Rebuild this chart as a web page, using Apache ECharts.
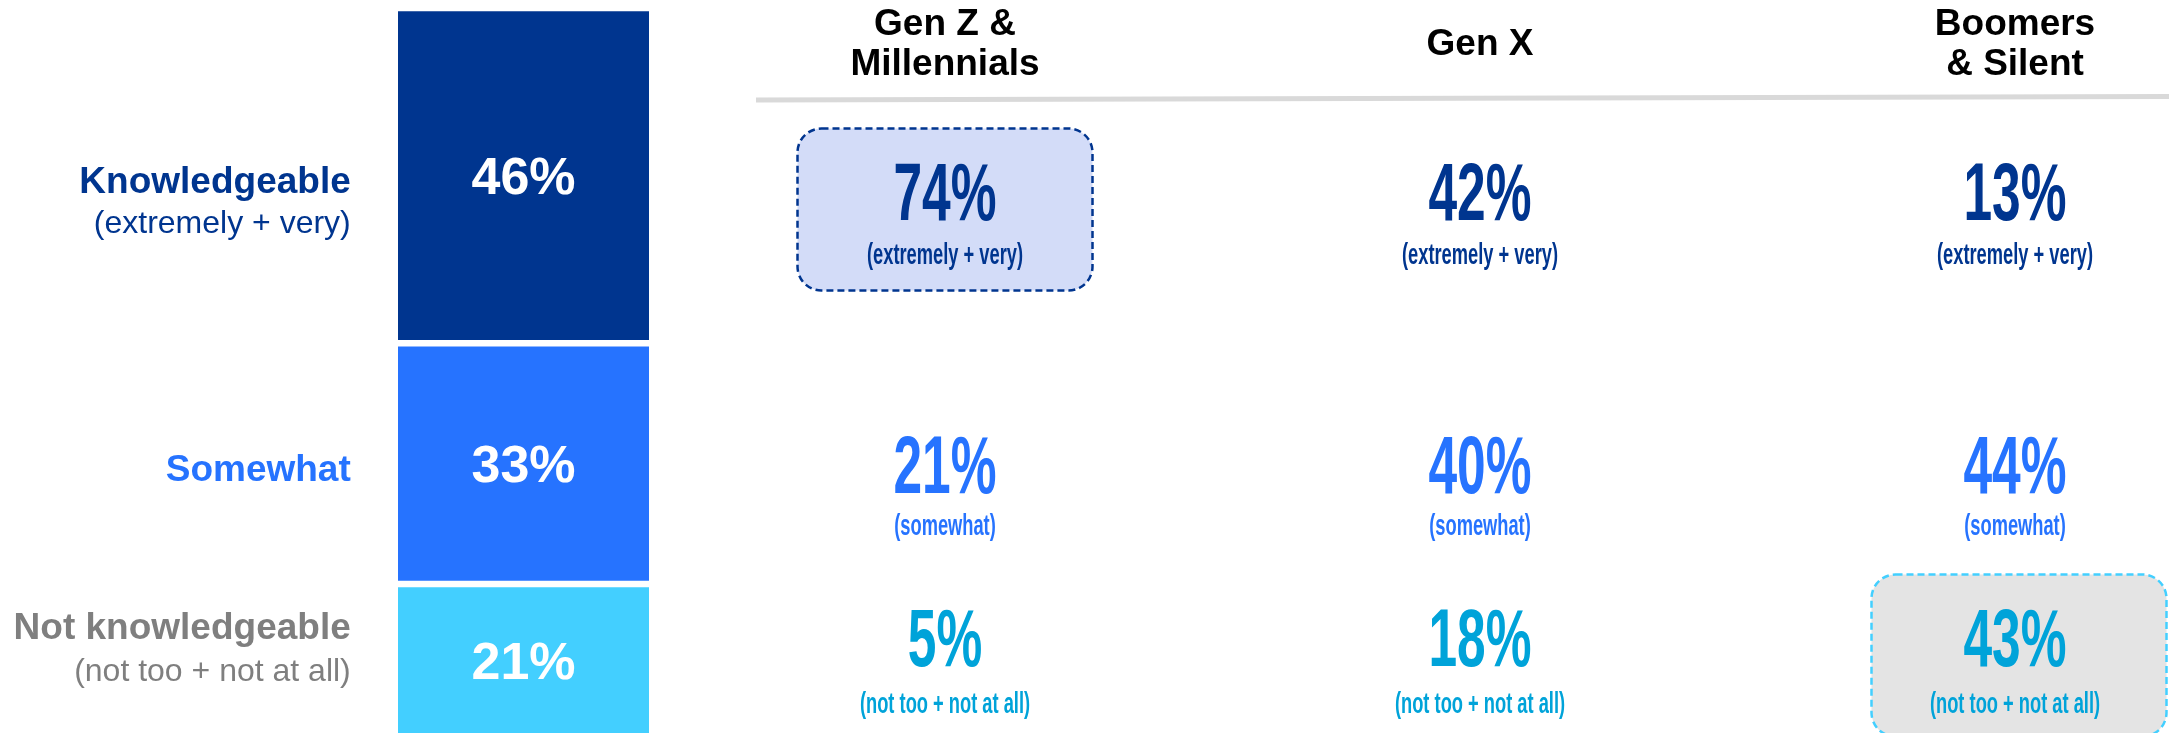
<!DOCTYPE html>
<html>
<head>
<meta charset="utf-8">
<title>Knowledge by generation</title>
<script src="https://cdn.jsdelivr.net/npm/echarts@6/dist/echarts.min.js"></script>
<style>
  html, body { margin: 0; padding: 0; background: #fff; }
  #main { width: 2169px; height: 733px; }
</style>
</head>
<body>
<div id="main"></div>
<script>
// data
var levels = ['Knowledgeable', 'Somewhat', 'Not knowledgeable'];
var levelNotes = ['(extremely + very)', '', '(not too + not at all)'];
var overall = [46, 33, 21];

var generations = ['Gen Z &\nMillennials', 'Gen X', 'Boomers\n& Silent'];
var genZMillennials = [74, 21, 5];
var genX = [42, 40, 18];
var boomersSilent = [13, 44, 43];
var captions = ['(extremely + very)', '(somewhat)', '(not too + not at all)'];
// [generation, level] cells that get a dashed box
var highlights = [[0, 0], [2, 2]];

// colours / layout
var barColors = ['#00358F', '#2673FF', '#43CFFF'];
var leftLabelColors = ['#00358F', '#2673FF', '#7F7F7F'];
var leftLabelShift = [28, 7, -10];
var numColors = ['#00358F', '#2673FF', '#00A3D9'];
var boxFill = ['#D3DCF8', '', '#E4E4E4'];
var boxStroke = ['#00358F', '', '#43CFFF'];
var rowY = [99, 372.5, 545];        // row centres inside the table grid
var captionGap = [59, 56, 62];

// pick a condensed face if one is installed
function hasFont(name) {
  var c = document.createElement('canvas').getContext('2d');
  c.font = 'bold 100px monospace';
  var a = c.measureText('74% abc').width;
  c.font = "bold 100px '" + name + "', monospace";
  return c.measureText('74% abc').width !== a;
}
var condensed = hasFont('Liberation Sans Narrow') ? 'Liberation Sans Narrow' : 'Liberation Sans';
function textWidth(font, s) {
  var c = document.createElement('canvas').getContext('2d');
  c.font = font;
  return c.measureText(s).width;
}
var numFont = "bold 82px '" + condensed + "'";
var capFont = "bold 30px '" + condensed + "'";
var numScale = 103 / textWidth(numFont, '74%');
var capScale = 156 / textWidth(capFont, '(extremely + very)');

var chart = echarts.init(document.getElementById('main'));

// stacked overall bar (bottom segment first)
var barSeries = [];
[2, 1, 0].forEach(function (i) {
  barSeries.push({
    name: levels[i],
    type: 'bar',
    stack: 'overall',
    barWidth: '100%',
    barGap: '-100%',
    data: [overall[i]],
    itemStyle: { color: barColors[i], borderColor: '#fff', borderWidth: 3.25 },
    label: {
      show: true,
      position: 'inside',
      offset: [0, 4],
      formatter: '{c}%',
      color: '#fff',
      fontFamily: 'Liberation Sans',
      fontWeight: 'bold',
      fontSize: 52
    }
  });
});
// invisible twin stack that carries the category names on the left
[2, 1, 0].forEach(function (i) {
  var txt = '{b|' + levels[i] + '}';
  if (levelNotes[i]) txt += '\n{s|' + levelNotes[i] + '}';
  barSeries.push({
    type: 'bar',
    stack: 'names',
    barWidth: '100%',
    barGap: '-100%',
    data: [overall[i]],
    itemStyle: { color: 'transparent' },
    label: {
      show: true,
      position: 'left',
      distance: 44,
      offset: [0, leftLabelShift[i]],
      formatter: txt,
      rich: {
        b: { fontFamily: 'Liberation Sans', fontWeight: 'bold', fontSize: 37, color: leftLabelColors[i], align: 'right', lineHeight: i === 2 ? 44 : 41 },
        s: { fontFamily: 'Liberation Sans', fontSize: 32, color: leftLabelColors[i], align: 'right', lineHeight: i === 2 ? 44 : 41 }
      }
    }
  });
});

// table cells
var genValues = [genZMillennials, genX, boomersSilent];
var cells = [];
genValues.forEach(function (vals, g) {
  vals.forEach(function (v, r) {
    var hl = highlights.some(function (h) { return h[0] === g && h[1] === r; }) ? 1 : 0;
    cells.push([g, r, v, hl]);
  });
});

var tableSeries = {
  type: 'custom',
  xAxisIndex: 1,
  yAxisIndex: 1,
  clip: false,
  data: cells,
  renderItem: function (params, api) {
    var g = api.value(0), r = api.value(1), v = api.value(2), hl = api.value(3);
    var p = api.coord([g, rowY[r]]);
    var kids = [];
    if (hl) {
      kids.push({
        type: 'rect',
        shape: { x: p[0] - 147.5 + (g === 2 ? 4 : 0), y: p[1] - 68.5, width: 295, height: 162, r: 24 },
        style: { fill: boxFill[r], stroke: boxStroke[r], lineWidth: 2.5, lineDash: [7, 4] }
      });
    }
    kids.push({
      type: 'text', x: p[0], y: p[1], scaleX: numScale,
      style: { text: v + '%', font: numFont, fill: numColors[r], align: 'center', verticalAlign: 'middle' }
    });
    kids.push({
      type: 'text', x: p[0], y: p[1] + captionGap[r], scaleX: capScale,
      style: { text: captions[r], font: capFont, fill: numColors[r], align: 'center', verticalAlign: 'middle' }
    });
    return { type: 'group', children: kids };
  }
};

var option = {
  animation: false,
  backgroundColor: '#fff',
  grid: [
    { left: 394.75, width: 257.5, top: 8, height: 729, outerBoundsMode: 'none', containLabel: false },
    { left: 677.5, width: 1605, top: 98, height: 635, outerBoundsMode: 'none', containLabel: false }
  ],
  xAxis: [
    { type: 'category', data: ['Total'], gridIndex: 0, show: false },
    {
      type: 'category', data: generations, gridIndex: 1, position: 'top',
      axisLine: { show: false }, axisTick: { show: false }, splitLine: { show: false },
      axisLabel: {
        margin: 53, verticalAlign: 'middle', interval: 0,
        fontFamily: 'Liberation Sans', fontWeight: 'bold', fontSize: 37, lineHeight: 40, color: '#000'
      }
    }
  ],
  yAxis: [
    { type: 'value', min: 0, max: 100, gridIndex: 0, show: false },
    { type: 'value', min: 0, max: 635, inverse: true, gridIndex: 1, show: false }
  ],
  graphic: [{
    type: 'line',
    shape: { x1: 756, y1: 100, x2: 2169, y2: 96.5 },
    style: { stroke: '#D9D9D9', lineWidth: 5 },
    silent: true
  }],
  series: barSeries.concat([tableSeries])
};

chart.setOption(option);
</script>
</body>
</html>
